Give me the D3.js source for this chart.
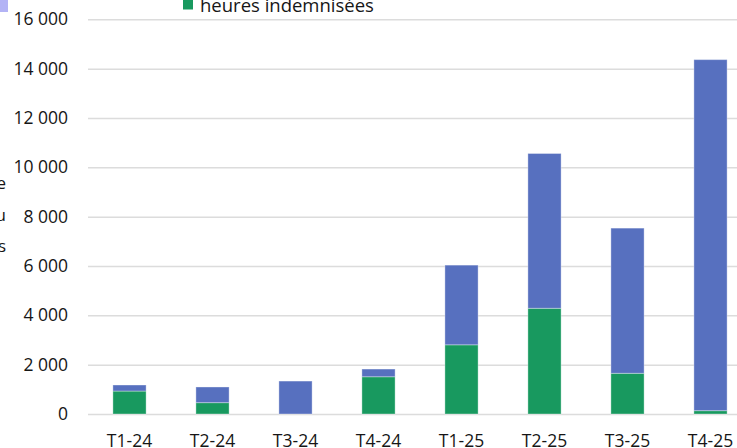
<!DOCTYPE html>
<html><head><meta charset="utf-8">
<script src="https://cdn.jsdelivr.net/npm/d3@7"></script>
<style>html,body{margin:0;padding:0;background:#fff;overflow:hidden}svg{display:block;font-family:"Open Sans",sans-serif}</style>
</head><body><svg id="c" width="737" height="448"></svg>
<script>
(function(){
const categories = ["T1-24","T2-24","T3-24","T4-24","T1-25","T2-25","T3-25","T4-25"];
const indemnisees = [930, 460, 0, 1510, 2805, 4285, 1650, 135];
const autres = [245, 635, 1335, 312, 3230, 6275, 5885, 14230];
const yTicks = [0, 2000, 4000, 6000, 8000, 10000, 12000, 14000, 16000];
const seriesNames = ["heures autres", "heures indemnisées"];
const titleLines = ["Nombre de", "heures au", "salariés"];

const svg = d3.select("#c");
const W = 737, H = 448;
const mLeft = 88, mRight = 752, mTop = 19.3, mBottom = 414;
const FONT = "'Open Sans',sans-serif";
const x = d3.scaleBand().domain(categories).range([mLeft, mRight]).paddingInner(0.6).paddingOuter(0.3);
const y = d3.scaleLinear().domain([0, 16000]).range([mBottom, mTop]);
const fmt = v => d3.format(",")(v).replace(/,/g, " ");

const yAxis = d3.axisLeft(y).tickValues(yTicks).tickSize(-(W - mLeft)).tickFormat(fmt).tickPadding(20);
const gy = svg.append("g").attr("transform", `translate(${mLeft},0)`).call(yAxis);
gy.select(".domain").remove();
gy.selectAll(".tick line").attr("stroke", "#dcdcdc").attr("stroke-width", 1.5);
gy.selectAll(".tick text").attr("font-size", 17.5).attr("fill", "#161616").attr("font-family", FONT);

const xAxis = d3.axisBottom(x).tickSize(0).tickPadding(21);
const gx = svg.append("g").attr("transform", `translate(0,${mBottom})`).call(xAxis);
gx.select(".domain").remove();
gx.selectAll(".tick text").attr("font-size", 17.5).attr("fill", "#161616").attr("font-family", FONT);

const data = categories.map((c, i) => ({cat: c, indemnisees: indemnisees[i], autres: autres[i]}));
const stack = d3.stack().keys(["indemnisees", "autres"]);
const colors = {indemnisees: "#18995f", autres: "#5770bf"};
const layers = stack(data);
svg.append("g").selectAll("g").data(layers).join("g")
  .attr("fill", d => colors[d.key])
  .selectAll("rect").data(d => d).join("rect")
  .attr("x", d => x(d.data.cat))
  .attr("width", x.bandwidth())
  .attr("y", d => y(d[1]))
  .attr("height", d => Math.max(0, y(d[0]) - y(d[1])))
  .attr("stroke", "rgba(255,255,255,0.35)").attr("stroke-width", 1);

svg.append("rect").attr("x", 0).attr("y", 0).attr("width", 8).attr("height", 12).attr("fill", "#b3b3f5");
svg.append("rect").attr("x", 183).attr("y", 0).attr("width", 10).attr("height", 9.5).attr("fill", colors.indemnisees);
svg.append("text").attr("x", 200).attr("y", 12).attr("font-size", 18.5).attr("fill", "#161616")
  .attr("font-family", FONT).text(seriesNames[1]);

svg.append("g").selectAll("text").data(titleLines).join("text")
  .attr("x", 6).attr("y", (d, i) => 189 + i * 31.5).attr("text-anchor", "end")
  .attr("font-size", 17).attr("fill", "#161616").attr("font-family", FONT).text(d => d);
})();
</script></body></html>
